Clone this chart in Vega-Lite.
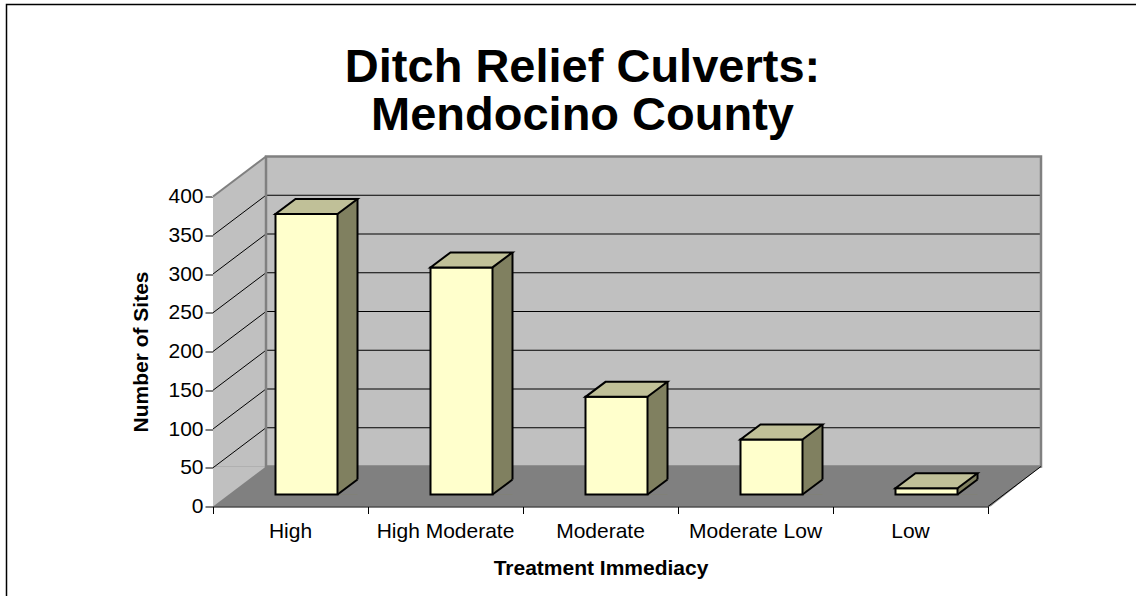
{
  "$schema": "https://vega.github.io/schema/vega-lite/v6.json",
  "width": 775,
  "height": 310,
  "autosize": {"type": "none"},
  "padding": {"left": 213, "top": 196.5, "right": 148, "bottom": 89.5},
  "background": "white",
  "config": {
    "view": {"stroke": null},
    "font": "Liberation Sans",
    "axis": {"labelColor": "black", "titleColor": "black", "labelFont": "Liberation Sans", "titleFont": "Liberation Sans", "grid": false},
    "axisY": {"labelFontSize": 21, "tickSize": 8, "labelPadding": 2, "titleFontSize": 21, "titleFontWeight": "bold", "titlePadding": 16, "domainColor": "black", "tickColor": "black", "domainWidth": 1, "tickWidth": 1, "zindex": 1, "tickCount": 9, "labelOverlap": false}
  },
  "title": {
    "text": ["Ditch Relief Culverts:", "Mendocino County"],
    "font": "Liberation Sans",
    "fontSize": 47,
    "fontWeight": "bold",
    "color": "black",
    "anchor": "middle",
    "frame": "group",
    "baseline": "top",
    "lineHeight": 48.4,
    "dx": -18,
    "offset": -136.5
  },
  "datasets": {
    "culverts": [
      {"treatment": "High", "sites": 362},
      {"treatment": "High Moderate", "sites": 293},
      {"treatment": "Moderate", "sites": 126},
      {"treatment": "Moderate Low", "sites": 71},
      {"treatment": "Low", "sites": 8}
    ],
    "gridlines": [
      {"v": 50}, {"v": 100}, {"v": 150}, {"v": 200}, {"v": 250}, {"v": 300}, {"v": 350}
    ]
  },
  "resolve": {"scale": {"x": "independent"}},
  "layer": [
    {
      "data": {"values": [{}]},
      "encoding": {
        "x": {"datum": 0, "type": "quantitative", "scale": {"domain": [0, 5], "nice": false, "zero": false},
              "axis": {"orient": "bottom", "values": [0, 1, 2, 3, 4, 5], "labels": false, "tickSize": 7, "tickColor": "black", "domainColor": "black", "title": null, "grid": false, "zindex": 1}}
      },
      "layer": [
        {
          "mark": {"type": "rect", "fill": "transparent", "stroke": "black", "strokeWidth": 1.5, "x2Offset": -206.5, "xOffset": 200, "yOffset": -192, "y2Offset": 120},
          "encoding": {
            "x": {"datum": 5, "type": "quantitative"},
            "x2": {"datum": 0},
            "y": {"datum": 400, "type": "quantitative", "scale": {"domain": [0, 400], "nice": false},
                  "axis": {"values": [0, 50, 100, 150, 200, 250, 300, 350, 400], "tickCount": 9, "labelOverlap": false, "title": "Number of Sites"}},
            "y2": {"datum": 0}
          }
        },
        {
          "mark": {"type": "rect", "fill": "#C0C0C0", "x2Offset": 53, "yOffset": -40},
          "encoding": {
            "x2": {"datum": 5},
            "y": {"datum": 400, "type": "quantitative"},
            "y2": {"datum": 0}
          }
        },
        {
          "mark": {"type": "point", "shape": "M -1 -41 L 54 -41 L -1 0.5 Z", "size": 4, "filled": true, "fill": "white", "strokeWidth": 0, "opacity": 1},
          "encoding": {"y": {"datum": 400, "type": "quantitative"}}
        },
        {
          "mark": {"type": "rect", "fill": "#808080", "x2Offset": 53, "yOffset": -40},
          "encoding": {
            "x2": {"datum": 5},
            "y": {"datum": 0, "type": "quantitative"},
            "y2": {"datum": 0}
          }
        },
        {
          "mark": {"type": "point", "shape": "M 0 -40 L 53 -40 L 0 0 Z", "size": 4, "filled": true, "fill": "#C0C0C0", "strokeWidth": 0, "opacity": 1},
          "encoding": {"y": {"datum": 0, "type": "quantitative"}}
        },
        {
          "mark": {"type": "point", "shape": "M 0 2 L 56 2 L 56 -41 L 53 -40 Z", "size": 4, "filled": true, "fill": "white", "strokeWidth": 0, "opacity": 1},
          "encoding": {"x": {"datum": 5, "type": "quantitative"}, "y": {"datum": 0, "type": "quantitative"}}
        },
        {
          "data": {"name": "gridlines"},
          "mark": {"type": "rule", "color": "black", "strokeWidth": 1, "xOffset": 53, "x2Offset": 53, "yOffset": -40, "y2Offset": -40},
          "encoding": {
            "x2": {"datum": 5},
            "y": {"field": "v", "type": "quantitative"}
          }
        },
        {
          "data": {"name": "gridlines"},
          "mark": {"type": "rule", "color": "black", "strokeWidth": 1, "x2Offset": 53, "y2Offset": -40},
          "encoding": {
            "x2": {"datum": 0},
            "y": {"field": "v", "type": "quantitative"},
            "y2": {"field": "v"}
          }
        },
        {
          "mark": {"type": "rect", "fill": "transparent", "stroke": "#808080", "strokeWidth": 2.5, "xOffset": 53, "x2Offset": 53, "yOffset": -40, "y2Offset": -40},
          "encoding": {
            "x2": {"datum": 5},
            "y": {"datum": 400, "type": "quantitative"},
            "y2": {"datum": 0}
          }
        },
        {
          "mark": {"type": "rule", "color": "#808080", "strokeWidth": 2, "x2Offset": 53, "y2Offset": -40},
          "encoding": {
            "x2": {"datum": 0},
            "y": {"datum": 400, "type": "quantitative"},
            "y2": {"datum": 400}
          }
        },
        {
          "mark": {"type": "rule", "color": "black", "strokeWidth": 1, "x2Offset": 53, "y2Offset": -40},
          "encoding": {
            "x": {"datum": 5, "type": "quantitative"},
            "x2": {"datum": 5},
            "y": {"datum": 0, "type": "quantitative"},
            "y2": {"datum": 0}
          }
        }
      ]
    },
    {
      "data": {"name": "culverts"},
      "encoding": {
        "x": {
          "field": "treatment",
          "type": "nominal",
          "scale": {"type": "band", "domain": ["High", "High Moderate", "Moderate", "Moderate Low", "Low"], "paddingInner": 0.6, "paddingOuter": 0.3},
          "axis": {"orient": "bottom", "ticks": false, "domain": false, "labelAngle": 0, "labelFontSize": 21, "labelPadding": 14, "title": "Treatment Immediacy", "titleFontSize": 21, "titleFontWeight": "bold", "titlePadding": 16, "zindex": 1}
        },
        "y": {
          "field": "sites",
          "type": "quantitative",
          "scale": {"domain": [0, 400], "nice": false},
          "axis": {"values": [0, 50, 100, 150, 200, 250, 300, 350, 400], "tickCount": 9, "labelOverlap": false, "title": "Number of Sites"}
        }
      },
      "layer": [
        {
          "mark": {"type": "rule", "color": "#808060", "strokeWidth": 20, "strokeCap": "butt", "xOffset": 57, "yOffset": -27, "y2Offset": -12},
          "encoding": {"y2": {"datum": 0}}
        },
        {
          "mark": {"type": "point", "shape": "M 47 -12 L 68 -12 L 68 -28 Z", "size": 4, "filled": true, "fill": "#808080", "strokeWidth": 0, "opacity": 1},
          "encoding": {"y": {"datum": 0, "type": "quantitative"}}
        },
        {
          "mark": {"type": "point", "shape": "M 47 -12 L 67 -27", "size": 4, "filled": false, "fill": "transparent", "stroke": "black", "strokeWidth": 2, "opacity": 1},
          "encoding": {"y": {"datum": 0, "type": "quantitative"}}
        },
        {
          "mark": {"type": "rule", "color": "black", "strokeWidth": 2, "xOffset": 67, "yOffset": -27, "y2Offset": -27},
          "encoding": {"y2": {"datum": 0}}
        },
        {
          "mark": {"type": "bar", "fill": "#FFFFCC", "stroke": "black", "strokeWidth": 2, "xOffset": 16, "yOffset": -12, "y2Offset": -12},
          "encoding": {"y2": {"datum": 0}}
        },
        {
          "mark": {"type": "point", "shape": "M -15 -12 L 47 -12 L 67 -27 L 5 -27 Z", "size": 4, "filled": true, "fill": "#C0C098", "stroke": "black", "strokeWidth": 2, "opacity": 1},
          "encoding": {}
        }
      ]
    }
  ]
}
